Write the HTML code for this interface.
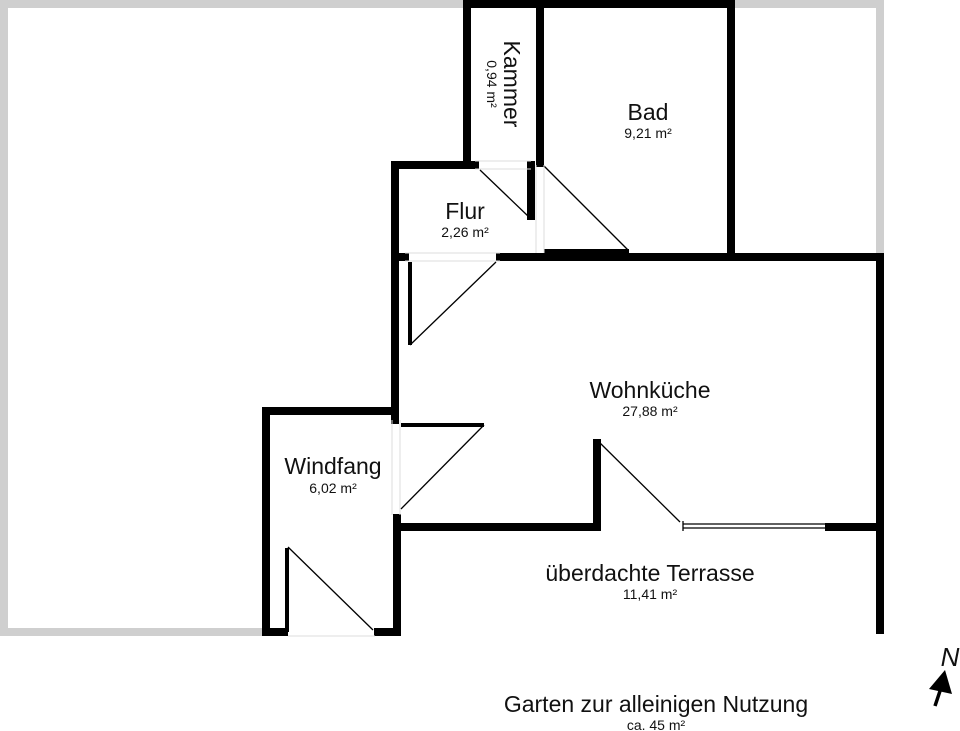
<!DOCTYPE html>
<html><head><meta charset="utf-8"><style>
html,body{margin:0;padding:0;background:#fff;}
svg{display:block;}
text{font-family:"Liberation Sans",sans-serif;fill:#111;text-anchor:middle;}
</style></head><body>
<svg width="960" height="731" viewBox="0 0 960 731" xmlns="http://www.w3.org/2000/svg">
<g stroke="#cfcfcf" stroke-width="8" fill="none">
<line x1="0" y1="4" x2="467" y2="4"/>
<line x1="731" y1="4" x2="884" y2="4"/>
<line x1="880" y1="0" x2="880" y2="257"/>
<line x1="4" y1="0" x2="4" y2="636"/>
<line x1="0" y1="632" x2="266" y2="632"/>
</g>
<g stroke="#000" stroke-width="8" fill="none" stroke-linecap="square">
<line x1="467" y1="4" x2="731" y2="4"/>
<line x1="467" y1="4" x2="467" y2="165"/>
<line x1="540" y1="4" x2="540" y2="163"/>
<line x1="731" y1="4" x2="731" y2="254"/>
<line x1="395" y1="165" x2="475" y2="165"/>
<line x1="395" y1="165" x2="395" y2="420"/>
<line x1="531" y1="165" x2="531" y2="216"/>
<line x1="395" y1="257" x2="405" y2="257"/>
<line x1="500" y1="257" x2="880" y2="257"/>
<line x1="548" y1="253" x2="625" y2="253"/>
<line x1="880" y1="257" x2="880" y2="630"/>
<line x1="397" y1="518" x2="397" y2="632"/>
<line x1="266" y1="411" x2="395" y2="411"/>
<line x1="266" y1="411" x2="266" y2="632"/>
<line x1="266" y1="632" x2="284" y2="632"/>
<line x1="378" y1="632" x2="397" y2="632"/>
<line x1="401" y1="527" x2="597" y2="527"/>
<line x1="597" y1="443" x2="597" y2="527"/>
<line x1="829" y1="527" x2="880" y2="527"/>
</g>
<g stroke="#000" stroke-width="4" fill="none">
<line x1="410" y1="262" x2="410" y2="345"/>
<line x1="287" y1="548" x2="287" y2="632"/>
<line x1="401" y1="425" x2="484" y2="425"/>
</g>
<g stroke="#000" stroke-width="1.3" fill="none">
<line x1="480" y1="170" x2="529" y2="217"/>
<line x1="543" y1="165" x2="628" y2="250"/>
<line x1="410" y1="345" x2="496" y2="262"/>
<line x1="484" y1="425" x2="401" y2="509"/>
<line x1="288" y1="547" x2="373" y2="630"/>
<line x1="598" y1="441" x2="680" y2="522"/>
<line x1="683" y1="524" x2="826" y2="524"/>
<line x1="683" y1="528" x2="826" y2="528"/>
<line x1="683" y1="521" x2="683" y2="531"/>
</g>
<g stroke="#ddd" stroke-width="1" fill="none">
<line x1="475" y1="161" x2="531" y2="161"/>
<line x1="475" y1="169" x2="531" y2="169"/>
<line x1="536" y1="165" x2="536" y2="253"/>
<line x1="544" y1="165" x2="544" y2="253"/>
<line x1="405" y1="253" x2="500" y2="253"/>
<line x1="405" y1="261" x2="500" y2="261"/>
<line x1="392" y1="420" x2="392" y2="515"/>
<line x1="400" y1="420" x2="400" y2="515"/>
<line x1="288" y1="636" x2="375" y2="636"/>
</g>
<text x="648" y="120" font-size="23">Bad</text>
<text x="648" y="138" font-size="14">9,21 m²</text>
<text x="465" y="219" font-size="23">Flur</text>
<text x="465" y="237" font-size="14">2,26 m²</text>
<text x="650" y="398" font-size="23">Wohnküche</text>
<text x="650" y="416" font-size="14">27,88 m²</text>
<text x="333" y="474" font-size="23">Windfang</text>
<text x="333" y="493" font-size="14">6,02 m²</text>
<text x="650" y="581" font-size="23">überdachte Terrasse</text>
<text x="650" y="599" font-size="14">11,41 m²</text>
<text x="656" y="712" font-size="23">Garten zur alleinigen Nutzung</text>
<text x="656" y="730" font-size="14">ca. 45 m²</text>
<text transform="translate(504,84) rotate(90)" font-size="23">Kammer</text>
<text transform="translate(487,84) rotate(90)" font-size="14">0,94 m²</text>
<text x="950" y="666" font-size="26" font-style="italic">N</text>
<line x1="935" y1="706" x2="942" y2="685" stroke="#000" stroke-width="3.5"/>
<polygon points="945,670 929,689 952,694" fill="#000"/>
</svg>
</body></html>
